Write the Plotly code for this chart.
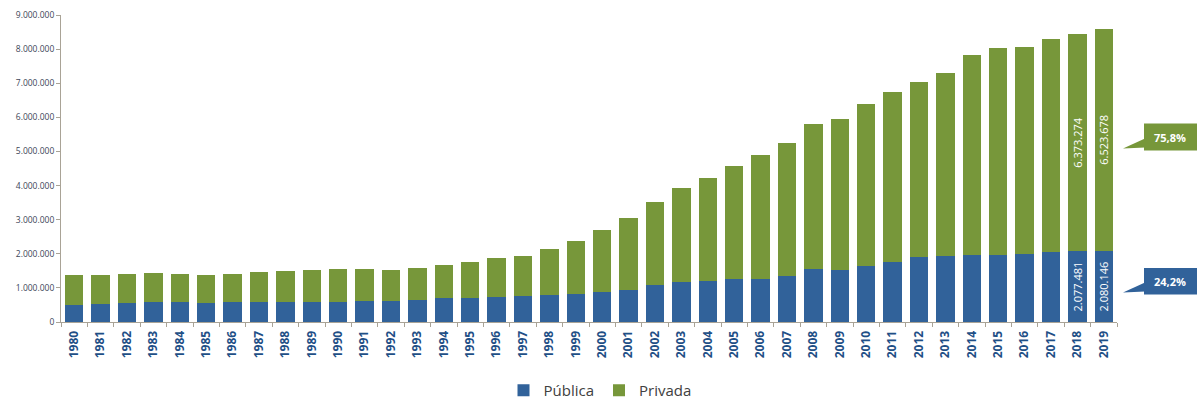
import plotly.graph_objects as go

# Matrículas no ensino superior por categoria administrativa, 1980-2019
anos = [str(a) for a in range(1980, 2020)]

publica = [492000, 530000, 560000, 590000, 575000, 556000, 590000, 585000, 585000, 585000,
           578000, 605000, 629000, 653000, 690000, 700000, 735000, 760000, 804000, 832000,
           887000, 945000, 1086000, 1176000, 1214000, 1247000, 1251000, 1335000, 1553000, 1524000,
           1643000, 1773000, 1897000, 1932000, 1961000, 1952000, 1990000, 2045000, 2077481, 2080146]

privada = [885000, 857000, 848000, 849000, 825000, 812000, 828000, 886000, 919000, 934000,
           962000, 960000, 907000, 942000, 971000, 1060000, 1134000, 1186000, 1322000, 1538000,
           1807000, 2091000, 2435000, 2761000, 3009000, 3321000, 3633000, 3915000, 4255000, 4430000,
           4736000, 4967000, 5141000, 5374000, 5867000, 6075000, 6059000, 6242000, 6373274, 6523678]

rotulados = ["2018", "2019"]

AZUL = "#31629a"
VERDE = "#77973a"
EIXO = "#a9a396"
TEXTO_EIXO = "#3c4658"

W, H = 1197, 399
ML, MR, MT, MB = 61, 80, 15, 77
PW, PH = W - ML - MR, H - MT - MB


def px_x(x):
    return (x - ML) / PW


def px_y(y):
    return (H - MB - y) / PH


def fmt_milhar(v):
    return f"{v:,}".replace(",", ".")


def rotulo(vals):
    return [fmt_milhar(v) if a in rotulados else "" for a, v in zip(anos, vals)]


fig = go.Figure()
for nome, vals, cor in [("Pública", publica, AZUL), ("Privada", privada, VERDE)]:
    fig.add_trace(go.Bar(
        x=anos, y=vals, name=nome, marker=dict(color=cor, line=dict(width=0)),
        text=rotulo(vals), textposition="inside", insidetextanchor="middle",
        textangle=-90, textfont=dict(color="white", size=11, family="Open Sans"),
        constraintext="none", cliponaxis=False,
    ))

# Participação de cada rede no último ano
tot = publica[-1] + privada[-1]
pct_pub = f"{100 * publica[-1] / tot:.1f}%".replace(".", ",")
pct_priv = f"{100 * privada[-1] / tot:.1f}%".replace(".", ",")

shapes = []
annotations = []
for texto, cor, topo, base in [(pct_priv, VERDE, 123.5, 150.5), (pct_pub, AZUL, 268, 294.5)]:
    x0, x1 = 1144, 1197
    shapes.append(dict(type="rect", xref="paper", yref="paper",
                       x0=px_x(x0), x1=px_x(x1), y0=px_y(base), y1=px_y(topo),
                       fillcolor=cor, line=dict(width=0), layer="above"))
    ponta = (1123, base - 2)
    path = (f"M{px_x(x0 + 1)},{px_y(base - 12)} L{px_x(ponta[0])},{px_y(ponta[1])} "
            f"L{px_x(x0 + 1)},{px_y(base - 3)} Z")
    shapes.append(dict(type="path", xref="paper", yref="paper", path=path,
                       fillcolor=cor, line=dict(width=0), layer="above"))
    annotations.append(dict(xref="paper", yref="paper", x=px_x(1170), y=px_y((topo + base) / 2),
                            text=f"<b>{texto}</b>", showarrow=False,
                            font=dict(color="white", size=11, family="Open Sans"),
                            xanchor="center", yanchor="middle"))

fig.update_layout(
    width=W, height=H,
    margin=dict(l=ML, r=MR, t=MT, b=MB, autoexpand=False),
    paper_bgcolor="white", plot_bgcolor="white",
    barmode="stack", bargap=0.31,
    separators=",.",
    showlegend=True,
    legend=dict(orientation="h", x=px_x(600), xanchor="center", y=px_y(374), yanchor="top",
                font=dict(size=15, color="#404040", family="Open Sans"),
                itemclick=False, traceorder="normal", borderwidth=0,
                bgcolor="rgba(0,0,0,0)"),
    shapes=shapes, annotations=annotations,
)

fig.update_xaxes(
    type="category", showline=True, linecolor=EIXO, linewidth=1,
    ticks="outside", tickson="boundaries", ticklen=4, tickcolor=EIXO,
    tickangle=-90, showgrid=False, automargin=False, ticklabelstandoff=3,
    tickfont=dict(size=12, color="#1f4f86", family="Open Sans", weight="bold"),
)
fig.update_yaxes(
    range=[0, 9000000], tickvals=list(range(0, 9000001, 1000000)), tickformat=",d",
    showline=True, linecolor=EIXO, linewidth=1, automargin=False,
    ticks="outside", ticklen=4, tickcolor=EIXO, showgrid=False, zeroline=False,
    tickfont=dict(size=8.5, color=TEXTO_EIXO, family="Open Sans"),
)

fig.write_html("out.html")
